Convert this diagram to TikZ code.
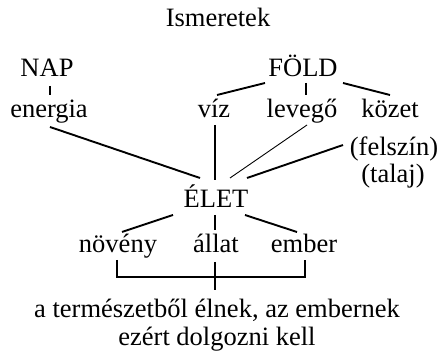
\documentclass[tikz,border=0pt]{standalone}
\usepackage{fontspec}
\setmainfont{Liberation Serif}
\usepackage{tikz}
\tikzstyle{word} = [inner sep=0pt, anchor=base, font=\fontsize{26.5}{30}\selectfont]
\tikzstyle{link} = [line width=1.9pt]
\tikzstyle{thinlink} = [line width=0.9pt]

\begin{document}
\begin{tikzpicture}[x=1pt, y=1pt]
\useasboundingbox (0,0) rectangle (439,353);
\node[word] (ism) at (218,326) {Ismeretek};
\node[word] (nap) at (47,276) {NAP};
\node[word] (fold) at (303,276) {FÖLD};
\node[word] (energia) at (49,235) {energia};
\node[word] (viz) at (214,235) {víz};
\node[word] (levego) at (302,235) {levegő};
\node[word] (kozet) at (390,235) {közet};
\node[word] (felszin) at (394,197) {(felszín)};
\node[word] (talaj) at (393,170) {(talaj)};
\node[word] (elet) at (216,145) {ÉLET};
\node[word] (noveny) at (118,100) {növény};
\node[word] (allat) at (216,100) {állat};
\node[word] (ember) at (304,100) {ember};
\node[word, anchor=north, align=center, font=\fontsize{26.5}{28}\selectfont] (summary) at (217,54)
    {a természetből élnek, az embernek\\ezért dolgozni kell};

\draw[link] ([shift={(3,-9)}]nap.base) -- ([shift={(1,23)}]energia.base);
\draw[link] ([shift={(-38,-6)}]fold.base) -- ([shift={(3,23)}]viz.base);
\draw[link] ([shift={(3,-6)}]fold.base) -- ([shift={(4,23)}]levego.base);
\draw[link] ([shift={(40,-6)}]fold.base) -- ([shift={(0,23)}]kozet.base);

\draw[link] ([shift={(1,-9)}]energia.base) -- ([shift={(-16,30)}]elet.base);
\draw[link] ([shift={(1,-7)}]viz.base) -- ([shift={(-1,28)}]elet.base);
\draw[thinlink] ([shift={(5,-7)}]levego.base) -- ([shift={(14,30)}]elet.base);
\draw[link] ([shift={(-51,11)}]felszin.base) -- ([shift={(31,30)}]elet.base);

\draw[link] ([shift={(-43,-7)}]elet.base) -- ([shift={(4,21)}]noveny.base);
\draw[link] ([shift={(-1,-7)}]elet.base) -- ([shift={(-1,23)}]allat.base);
\draw[link] ([shift={(29,-7)}]elet.base) -- ([shift={(-7,21)}]ember.base);

\draw[link] ([shift={(-1,-7)}]noveny.base) -- ++(0,-17) -| ([shift={(1,-7)}]ember.base);
\draw[link] ([shift={(-1,-9)}]allat.base) -- ([shift={(-2,9)}]summary.north);
\end{tikzpicture}
\end{document}
